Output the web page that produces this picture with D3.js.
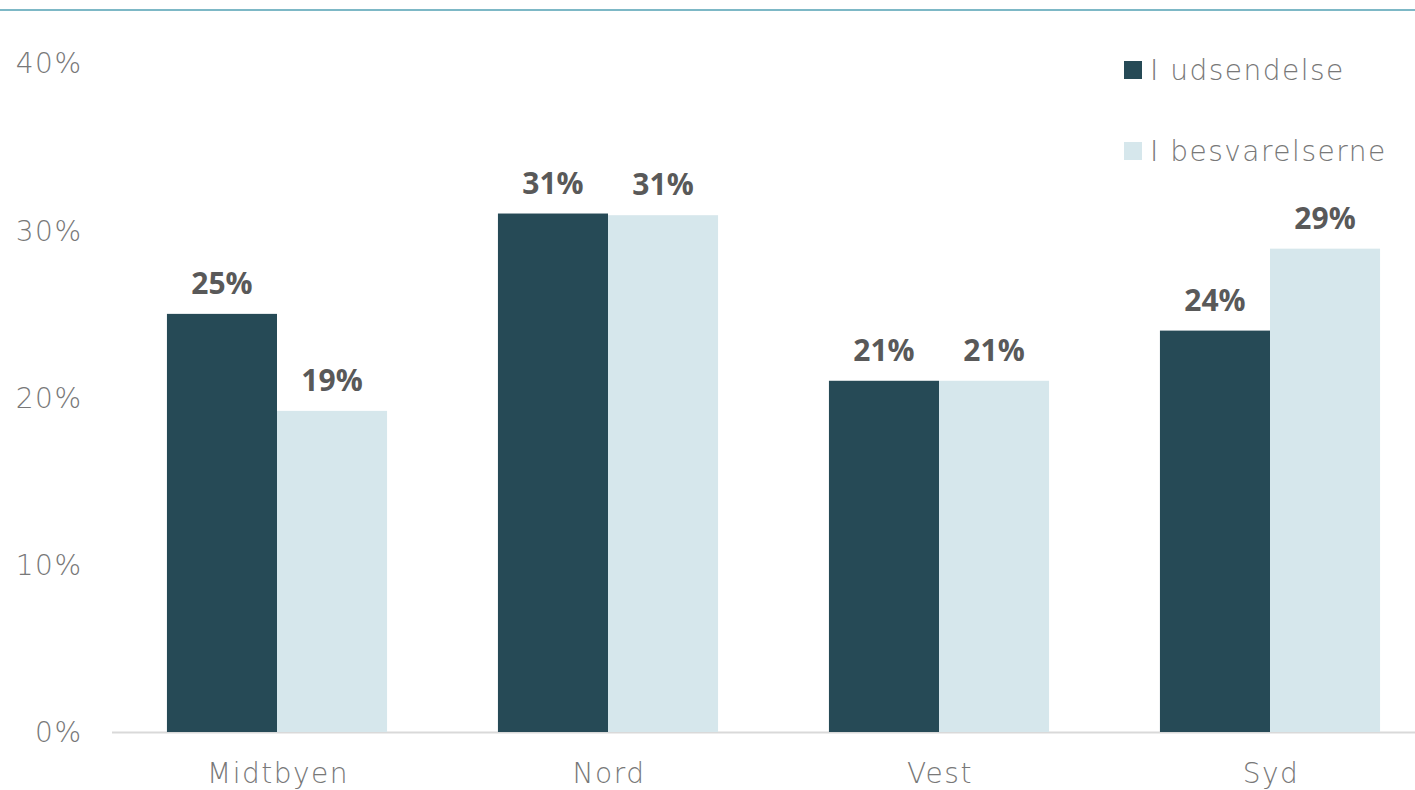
<!DOCTYPE html>
<html><head><meta charset="utf-8">
<script src="https://cdn.jsdelivr.net/npm/d3@7"></script>
<style>
body{margin:0;background:#fff;}
svg{display:block;}
text{font-family:"Open Sans","Noto Sans",sans-serif;}
text.light{font-family:"DejaVu Sans",sans-serif;font-weight:200;letter-spacing:1.5px;}
</style></head>
<body>
<svg id="c" width="1415" height="790"></svg>
<script>
const categories = ["Midtbyen","Nord","Vest","Syd"];
const seriesNames = ["I udsendelse","I besvarelserne"];
const udsendelse = [25, 31, 21, 24];
const besvarelserne = [19.2, 30.9, 21, 28.9];
const dataLabels1 = ["25%","31%","21%","24%"];
const dataLabels2 = ["19%","31%","21%","29%"];
const yTicks = [0,10,20,30,40];
const colors = ["#264a56","#d6e7ec"];

const svg = d3.select("#c");
const W = 1415, H = 790;

// top rule
svg.append("line").attr("x1",0).attr("x2",W).attr("y1",10).attr("y2",10)
  .attr("stroke","#7db8c6").attr("stroke-width",2);

const y = d3.scaleLinear().domain([0,40]).range([732,63]);
const pin = 0.335;
const x0 = d3.scaleBand().domain(categories).range([111.5,1435.5]).paddingInner(pin).paddingOuter(pin/2);
const x1 = d3.scaleBand().domain([0,1]).range([0,x0.bandwidth()]);

// y axis tick labels
const yAxis = d3.axisLeft(y).tickValues(yTicks).tickFormat(d=>d+"%").tickSize(0).tickPadding(0);
const ga = svg.append("g").attr("transform","translate(82.5,0)").call(yAxis);
ga.select(".domain").remove();
ga.selectAll("text").attr("class","light").attr("font-size",28).attr("fill","#787878").attr("dy","0.35em");

// baseline
svg.append("line").attr("x1",112).attr("x2",W).attr("y1",y(0)+0.5).attr("y2",y(0)+0.5)
  .attr("stroke","#d9d9d9").attr("stroke-width",2);

const series = [udsendelse, besvarelserne];
const labels = [dataLabels1, dataLabels2];
series.forEach((vals,si)=>{
  const g = svg.append("g");
  g.selectAll("rect").data(categories).join("rect")
    .attr("x",(c)=>x0(c)+x1(si))
    .attr("width",x1.bandwidth())
    .attr("y",(c,i)=>y(vals[i]))
    .attr("height",(c,i)=>y(0)-y(vals[i]))
    .attr("fill",colors[si]);
  g.selectAll("text").data(categories).join("text")
    .attr("x",(c)=>x0(c)+x1(si)+x1.bandwidth()/2)
    .attr("y",(c,i)=>y(vals[i])-20)
    .attr("text-anchor","middle")
    .attr("font-size",30).attr("font-weight",700).attr("fill","#595959")
    .text((c,i)=>labels[si][i]);
});

// x axis labels
const xAxis = d3.axisBottom(x0).tickSize(0).tickPadding(0);
const gx = svg.append("g").attr("transform","translate(1,783)").call(xAxis);
gx.select(".domain").remove();
gx.selectAll("text").attr("class","light").attr("font-size",28).attr("fill","#787878").attr("dy",0);

// legend
const leg = svg.append("g");
seriesNames.forEach((n,i)=>{
  const yy = 70 + i*81;
  leg.append("rect").attr("x",1124).attr("y",yy-9).attr("width",18).attr("height",18).attr("fill",colors[i]);
  leg.append("text").attr("class","light").attr("x",1150).attr("y",yy).attr("dy","0.35em")
    .attr("font-size",28).attr("fill","#787878").text(n);
});
</script>
</body></html>
